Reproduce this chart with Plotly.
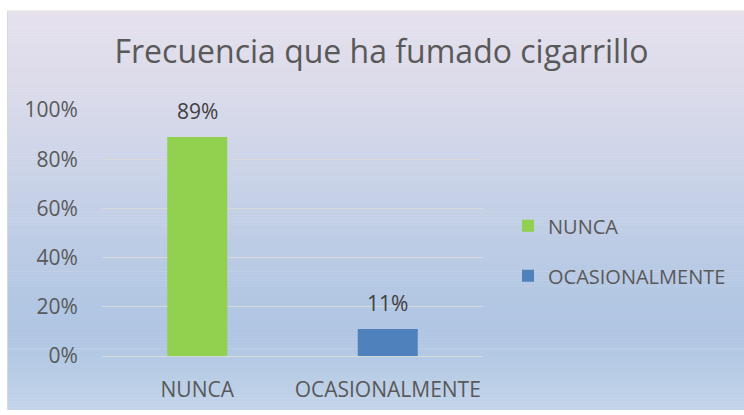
import plotly.graph_objects as go

categories = ["NUNCA", "OCASIONALMENTE"]
values = [0.89, 0.11]
colors = ["#92D050", "#4F81BD"]
tick_vals = [0, 0.2, 0.4, 0.6, 0.8, 1.0]
tick_text = ["0%", "20%", "40%", "60%", "80%", "100%"]
title_text = "Frecuencia que ha fumado cigarrillo"

W, H = 744, 415
L, R, T, B = 102, 483, 110, 360  # plot area in pixels


def px_x(p):
    return (p - L) / (R - L)


def px_y(p):
    return (B - p) / (B - T)


# background gradient (pixel y, rgb)
stops = [(10, (230, 225, 237)), (100, (217, 218, 234)), (200, (198, 209, 231)),
         (300, (179, 199, 227)), (345, (176, 198, 226)), (415, (195, 212, 234))]


def col_at(y):
    for (y0, c0), (y1, c1) in zip(stops[:-1], stops[1:]):
        if y0 <= y <= y1:
            t = (y - y0) / (y1 - y0)
            return "rgb(%d,%d,%d)" % tuple(round(a + (b - a) * t) for a, b in zip(c0, c1))
    return "rgb(%d,%d,%d)" % stops[-1][1]


shapes = []
step = 3
y = 10
while y < 415:
    y2 = min(y + step, 415)
    shapes.append(dict(type="rect", xref="paper", yref="paper", layer="below",
                       x0=px_x(7), x1=px_x(744), y0=px_y(min(y2 + 0.5, 415)), y1=px_y(y),
                       line=dict(width=0), fillcolor=col_at(y + step / 2)))
    y = y2
# chart-area border (top and left edges are the visible ones)
shapes.append(dict(type="line", xref="paper", yref="paper", layer="below",
                   x0=px_x(7), x1=px_x(744), y0=px_y(9.5), y1=px_y(9.5),
                   line=dict(color="#D9D9D9", width=1)))
shapes.append(dict(type="line", xref="paper", yref="paper", layer="below",
                   x0=px_x(7.5), x1=px_x(7.5), y0=px_y(9.5), y1=px_y(415),
                   line=dict(color="#D9D9D9", width=1)))

fig = go.Figure()
for cat, val, col in zip(categories, values, colors):
    fig.add_trace(go.Bar(x=[cat], y=[val], name=cat, marker=dict(color=col, line=dict(width=0)),
                         width=0.315, legendgroup=cat, hoverinfo="skip"))

annotations = []
for cat, val in zip(categories, values):
    annotations.append(dict(x=cat, y=val, xref="x", yref="y", text="%d%%" % round(val * 100),
                            showarrow=False, yanchor="middle", yshift=26,
                            font=dict(family="Open Sans", size=21, color="#404040")))

fig.update_layout(
    width=W, height=H,
    margin=dict(l=L, r=W - R, t=T, b=H - B, pad=0),
    paper_bgcolor="white", plot_bgcolor="rgba(0,0,0,0)",
    barmode="overlay",
    title=dict(text=title_text, x=381.5 / W, xanchor="center", y=1 - 52 / H,
               yanchor="middle", yref="container",
               font=dict(family="Open Sans", size=32, color="#595959")),
    showlegend=True,
    legend=dict(x=px_x(508), xanchor="left", y=px_y(253), yanchor="middle",
                traceorder="grouped", tracegroupgap=21, bgcolor="rgba(0,0,0,0)", itemwidth=30,
                font=dict(family="Open Sans", size=20, color="#595959"),
                itemclick=False, itemdoubleclick=False),
    shapes=shapes,
    annotations=annotations,
    xaxis=dict(showgrid=False, showline=False, zeroline=False, ticks="outside", ticklen=15,
               tickcolor="rgba(0,0,0,0)", tickfont=dict(family="Open Sans", size=21, color="#595959"),
               fixedrange=True),
    yaxis=dict(range=[0, 1], tickvals=tick_vals, ticktext=tick_text, showgrid=True,
               gridcolor="#D9D9D9", gridwidth=1, zeroline=True, zerolinecolor="#D9D9D9",
               zerolinewidth=1, showline=False, ticks="outside", ticklen=19,
               tickcolor="rgba(0,0,0,0)", tickfont=dict(family="Open Sans", size=21, color="#595959"),
               fixedrange=True),
)

fig.write_html("out.html", config={"displayModeBar": False},
               post_script="document.body.style.margin='0';document.body.style.overflow='hidden';")
